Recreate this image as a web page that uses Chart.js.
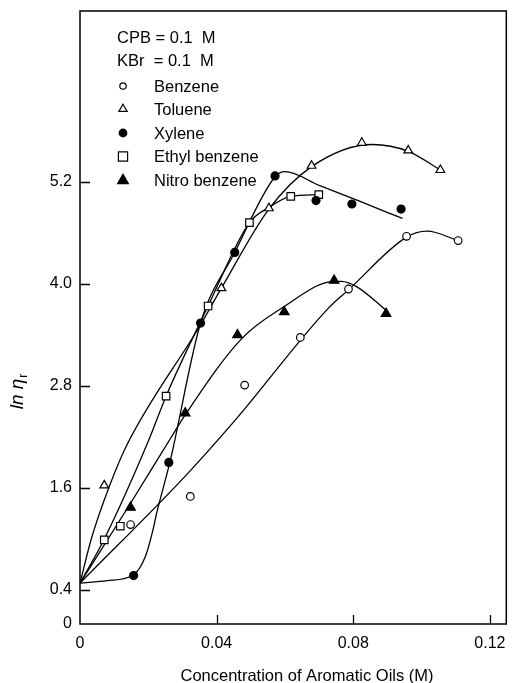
<!DOCTYPE html>
<html>
<head>
<meta charset="utf-8">
<script src="https://cdn.jsdelivr.net/npm/chart.js@4"></script>
<style>
html, body { margin: 0; padding: 0; background: #fff; }
#wrap { width: 513px; height: 683px; position: relative; }
</style>
</head>
<body>
<div id="wrap"><canvas id="chart"></canvas></div>
<script>
const benzeneX = [0.0148, 0.0323, 0.0482, 0.0645, 0.0786, 0.0956, 0.1107];
const benzeneY = [1.17, 1.50, 2.81, 3.37, 3.94, 4.56, 4.51];
const tolueneX = [0.0071, 0.0414, 0.0553, 0.0678, 0.0825, 0.0961, 0.1055];
const tolueneY = [1.63, 3.95, 4.89, 5.39, 5.66, 5.57, 5.34];
const xyleneX = [0.0157, 0.0260, 0.0353, 0.0453, 0.0571, 0.0691, 0.0796, 0.0940];
const xyleneY = [0.57, 1.90, 3.54, 4.37, 5.27, 4.98, 4.94, 4.88];
const ethylX = [0.0071, 0.0118, 0.0252, 0.0375, 0.0496, 0.0617, 0.0699];
const ethylY = [0.99, 1.15, 2.68, 3.74, 4.72, 5.03, 5.05];
const nitroX = [0.0148, 0.0308, 0.0461, 0.0598, 0.0744, 0.0896];
const nitroY = [1.37, 2.48, 3.40, 3.67, 4.04, 3.65];

// hand drawn fit curves
const benzeneFitX = [0, 0.0313, 0.0455, 0.0726, 0.0786, 0.0956, 0.1016, 0.1107];
const benzeneFitY = [0.48, 1.76, 2.40, 3.71, 3.93, 4.55, 4.62, 4.51];
const tolueneFitX = [0, 0.0033, 0.0086, 0.0139, 0.0353, 0.0414, 0.0553, 0.0678, 0.0856, 0.0961, 0.1055];
const tolueneFitY = [0.48, 1.00, 1.62, 2.12, 3.52, 3.95, 4.88, 5.38, 5.64, 5.56, 5.34];
const xyleneFitX = [0, 0.008, 0.0157, 0.0192, 0.0212, 0.0226, 0.0263, 0.0353, 0.0453, 0.0571, 0.0600, 0.0700, 0.0820, 0.0944];
const xyleneFitY = [0.48, 0.51, 0.58, 0.80, 1.08, 1.33, 1.90, 3.54, 4.37, 5.26, 5.32, 5.16, 4.97, 4.77];
const ethylFitX = [0, 0.007, 0.0202, 0.0252, 0.0375, 0.0496, 0.0553, 0.0617, 0.0699];
const ethylFitY = [0.48, 0.99, 2.17, 2.68, 3.74, 4.72, 4.90, 5.03, 5.05];
const nitroFitX = [0, 0.0148, 0.0263, 0.0308, 0.0474, 0.0600, 0.0726, 0.0765, 0.0813, 0.0893];
const nitroFitY = [0.48, 1.42, 2.17, 2.46, 3.36, 3.74, 4.02, 4.03, 3.96, 3.70];

const xTicks = [0, 0.04, 0.08, 0.12];
const yTicks = [0, 0.4, 1.6, 2.8, 4.0, 5.2];
const noteLines = ['CPB = 0.1  M', 'KBr  = 0.1  M'];
const seriesNames = ['Benzene', 'Toluene', 'Xylene', 'Ethyl benzene', 'Nitro benzene'];

const FONT = "'Liberation Sans', Arial, Helvetica, sans-serif";

function pts(xs, ys) {
    return xs.map((x, i) => ({x: x, y: ys[i]}))
}

function marks(xs, ys, style, filled, r) {
    return {
        data: pts(xs, ys),
        showLine: false,
        pointStyle: style,
        pointRadius: r,
        pointHoverRadius: r,
        pointBackgroundColor: filled ? '#000' : '#fff',
        pointBorderColor: '#000',
        pointBorderWidth: 1.2,
        order: 0,
    }
}

function curve(xs, ys) {
    return {
        data: pts(xs, ys),
        showLine: true,
        borderColor: '#000',
        borderWidth: 1.3,
        pointRadius: 0,
        pointHoverRadius: 0,
        cubicInterpolationMode: 'monotone',
        fill: false,
        order: 1,
    }
}

// no extra room for tick labels, the plot box is fixed
function noPad(s) {
    s.paddingLeft = 0; s.paddingRight = 0; s.paddingTop = 0; s.paddingBottom = 0;
}

// legend markers, same order as seriesNames
const legendMarks = [
    {pointStyle: 'circle', radius: 3.2, filled: false},
    {pointStyle: 'triangle', radius: 4.8, filled: false},
    {pointStyle: 'circle', radius: 3.8, filled: true},
    {pointStyle: 'rect', radius: 6.5, filled: false},
    {pointStyle: 'triangle', radius: 6.2, filled: true},
];

const decor = {
    id: 'decor',
    afterDraw(chart) {
        const ctx = chart.ctx;
        const a = chart.chartArea;
        const sx = chart.scales.x, sy = chart.scales.y;
        ctx.save();
        ctx.strokeStyle = '#000';
        ctx.lineWidth = 1.5;
        ctx.strokeRect(a.left, a.top, a.right - a.left, a.bottom - a.top);
        // tick marks point inward
        ctx.lineWidth = 1.3;
        ctx.beginPath();
        yTicks.forEach(v => {
            if (v === 0) return;
            const py = Math.round(sy.getPixelForValue(v)) + 0.5;
            ctx.moveTo(a.left, py);
            ctx.lineTo(a.left + 10, py);
        });
        xTicks.forEach(v => {
            if (v === 0) return;
            const px = Math.round(sx.getPixelForValue(v)) + 0.5;
            ctx.moveTo(px, a.bottom);
            ctx.lineTo(px, a.bottom - 9);
        });
        ctx.stroke();

        // legend block inside the plot
        ctx.fillStyle = '#000';
        ctx.textBaseline = 'middle';
        ctx.textAlign = 'left';
        ctx.font = '16.5px ' + FONT;
        ctx.fillText(noteLines[0], 117, 38);
        ctx.fillText(noteLines[1], 117, 61);
        const rows = [86, 109, 133, 156.5, 180.5];
        seriesNames.forEach((name, i) => {
            const m = legendMarks[i];
            ctx.fillStyle = m.filled ? '#000' : '#fff';
            ctx.strokeStyle = '#000';
            ctx.lineWidth = 1.2;
            Chart.helpers.drawPoint(ctx, {pointStyle: m.pointStyle, radius: m.radius, rotation: 0, borderWidth: 1.2}, 123, rows[i]);
            ctx.fillStyle = '#000';
            ctx.fillText(name, 154, rows[i] + 1);
        });

        // axis titles
        ctx.textAlign = 'center';
        ctx.font = '16.5px ' + FONT;
        ctx.fillText('Concentration of Aromatic Oils (M)', 307, 676);

        ctx.translate(18, 392);
        ctx.rotate(-Math.PI / 2);
        ctx.textAlign = 'left';
        ctx.font = 'italic 19px ' + FONT;
        const base = 'ln η';
        const w = ctx.measureText(base).width;
        ctx.font = '12px ' + FONT;
        const ws = ctx.measureText('r').width;
        const x0 = -(w + ws) / 2;
        ctx.font = 'italic 19px ' + FONT;
        ctx.fillText(base, x0, 0);
        ctx.font = '12px ' + FONT;
        ctx.fillText('r', x0 + w + 1, 6);
        ctx.restore();
    }
};

new Chart(document.getElementById('chart'), {
    type: 'scatter',
    data: {
        datasets: [
            marks(benzeneX, benzeneY, 'circle', false, 3.8),
            marks(tolueneX, tolueneY, 'triangle', false, 5),
            marks(xyleneX, xyleneY, 'circle', true, 4),
            marks(ethylX, ethylY, 'rect', false, 5.3),
            marks(nitroX, nitroY, 'triangle', true, 5.5),
            curve(benzeneFitX, benzeneFitY),
            curve(tolueneFitX, tolueneFitY),
            curve(xyleneFitX, xyleneFitY),
            curve(ethylFitX, ethylFitY),
            curve(nitroFitX, nitroFitY),
        ]
    },
    options: {
        responsive: true,
        maintainAspectRatio: false,
        animation: false,
        devicePixelRatio: 1,
        layout: { padding: { left: 0, right: -1, top: 11, bottom: 0 } },
        plugins: {
            legend: { display: false },
            tooltip: { enabled: false },
        },
        scales: {
            x: {
                type: 'linear',
                min: 0,
                max: 0.1248,
                afterBuildTicks: s => { s.ticks = xTicks.map(v => ({value: v})) },
                afterFit: s => { s.height = 59; noPad(s) },
                grid: { display: false, drawTicks: false },
                border: { display: false },
                ticks: {
                    padding: 10,
                    color: '#000',
                    font: { family: FONT, size: 16 },
                    maxRotation: 0,
                    callback: v => v === 0 ? '0' : v.toFixed(2),
                },
            },
            y: {
                type: 'linear',
                min: 0,
                max: 7.21,
                afterBuildTicks: s => { s.ticks = yTicks.map(v => ({value: v})) },
                afterFit: s => { s.width = 80; noPad(s) },
                grid: { display: false, drawTicks: false },
                border: { display: false },
                ticks: {
                    padding: 8,
                    color: '#000',
                    font: { family: FONT, size: 16 },
                    callback: v => v === 0 ? '0' : v.toFixed(1),
                },
            },
        },
    },
    plugins: [decor],
});
</script>
</body>
</html>
